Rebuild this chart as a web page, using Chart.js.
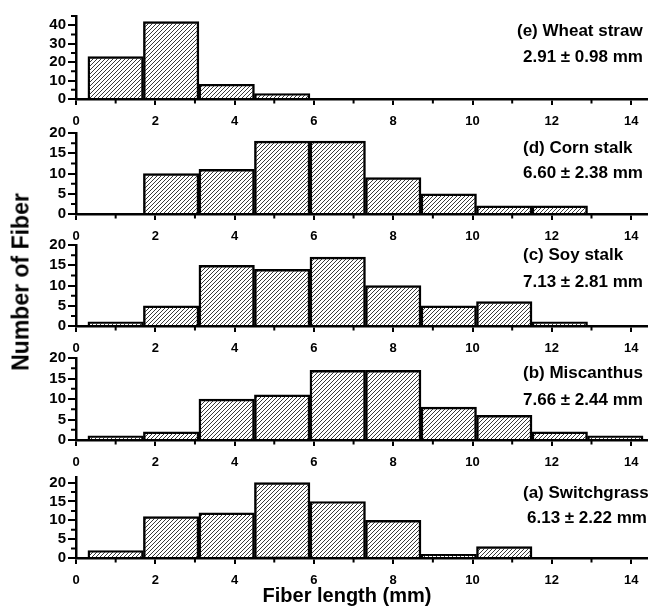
<!DOCTYPE html>
<html>
<head>
<meta charset="utf-8">
<script src="https://cdn.jsdelivr.net/npm/chart.js@4/dist/chart.umd.min.js"></script>
<style>
  body { margin: 0; background: #fff; }
  #wrap { position: relative; width: 649px; height: 608px; overflow: hidden; font-family: "Liberation Sans", Arial, sans-serif; }
  #wrap canvas { position: absolute; left: 0; }
  .note { position: absolute; left: 523px; font-weight: bold; font-size: 17px; line-height: 20px; white-space: nowrap; color: #000; }
  .ytitle { position: absolute; left: 21px; top: 282px; transform: translate(-50%, -50%) rotate(-90deg); font-weight: bold; font-size: 23px; white-space: nowrap; }
  .xtitle { position: absolute; left: 347px; top: 595px; transform: translate(-50%, -50%); font-weight: bold; font-size: 20px; white-space: nowrap; }
</style>
</head>
<body>
<div id="wrap">
  <canvas id="panel-e" width="649" height="129" style="top:0px"></canvas>
  <canvas id="panel-d" width="649" height="127" style="top:117px"></canvas>
  <canvas id="panel-c" width="649" height="127" style="top:229px"></canvas>
  <canvas id="panel-b" width="649" height="128" style="top:342px"></canvas>
  <canvas id="panel-a" width="649" height="127" style="top:461px"></canvas>

  <div class="note" style="top:21px;left:517px">(e) Wheat straw</div>
  <div class="note" style="top:47px">2.91 &plusmn; 0.98 mm</div>
  <div class="note" style="top:138px">(d) Corn stalk</div>
  <div class="note" style="top:163px">6.60 &plusmn; 2.38 mm</div>
  <div class="note" style="top:245px">(c) Soy stalk</div>
  <div class="note" style="top:272px">7.13 &plusmn; 2.81 mm</div>
  <div class="note" style="top:363px">(b) Miscanthus</div>
  <div class="note" style="top:390px">7.66 &plusmn; 2.44 mm</div>
  <div class="note" style="top:483px">(a) Switchgrass</div>
  <div class="note" style="top:508px;left:527px">6.13 &plusmn; 2.22 mm</div>

  <div class="ytitle">Number of Fiber</div>
  <div class="xtitle">Fiber length (mm)</div>
</div>
<script>
// bin centres (mm), bins are 1.4 mm wide starting at 0.3
const binCenters = [1.0, 2.4, 3.8, 5.2, 6.6, 8.0, 9.4, 10.8, 12.2, 13.6];

// counts per bin
const wheatStraw  = [23, 42, 8, 3, 0, 0, 0, 0, 0, 0];
const cornStalk   = [0, 10, 11, 18, 18, 9, 5, 2, 2, 0];
const soyStalk    = [1, 5, 15, 14, 17, 10, 5, 6, 1, 0];
const miscanthus  = [1, 2, 10, 11, 17, 17, 8, 6, 2, 1];
const switchgrass = [2, 11, 12, 20, 15, 10, 1, 3, 0, 0];

// axis ticks
const xMajor = [0, 2, 4, 6, 8, 10, 12, 14];
const xMinor = [1, 3, 5, 7, 9, 11, 13];
const yMajor45 = [0, 10, 20, 30, 40];
const yMinor45 = [5, 15, 25, 35, 45];
const yMajor20 = [0, 5, 10, 15, 20];
const yMinor20 = [2.5, 7.5, 12.5, 17.5];

Chart.defaults.font.family = '"Liberation Sans", Arial, sans-serif';
Chart.defaults.font.weight = 'bold';
Chart.defaults.color = '#000';

function hatch() {
  const c = document.createElement('canvas');
  c.width = 4; c.height = 4;
  const g = c.getContext('2d');
  g.strokeStyle = '#222';
  g.lineWidth = 0.9;
  g.beginPath();
  g.moveTo(0, 4); g.lineTo(4, 0);
  g.moveTo(-1, 1); g.lineTo(1, -1);
  g.moveTo(3, 5); g.lineTo(5, 3);
  g.stroke();
  return g.createPattern(c, 'repeat');
}

// short ticks between the labelled ones
const minorTicks = {
  id: 'minorTicks',
  afterDraw(chart, args, opts) {
    const { ctx, chartArea, scales } = chart;
    ctx.save();
    ctx.strokeStyle = '#000';
    ctx.lineWidth = 2;
    ctx.beginPath();
    (opts.x || []).forEach(v => {
      const px = scales.x.getPixelForValue(v);
      ctx.moveTo(px, chartArea.bottom);
      ctx.lineTo(px, chartArea.bottom + 4.5);
    });
    (opts.y || []).forEach(v => {
      const py = scales.y.getPixelForValue(v);
      ctx.moveTo(chartArea.left, py);
      ctx.lineTo(chartArea.left - 5, py);
    });
    ctx.stroke();
    ctx.restore();
  }
};

function makePanel(id, counts, yMax, yMajor, yMinor) {
  const ctx = document.getElementById(id).getContext('2d');
  return new Chart(ctx, {
    type: 'bar',
    data: {
      datasets: [{
        data: binCenters.map((x, i) => ({ x: x, y: counts[i] })),
        backgroundColor: hatch(),
        borderColor: '#000',
        borderWidth: 1.8,
        barPercentage: 1,
        categoryPercentage: 1
      }]
    },
    options: {
      responsive: false,
      devicePixelRatio: 1,
      animation: false,
      layout: { padding: { top: 16, right: 2, left: 0, bottom: 0 } },
      plugins: {
        legend: { display: false },
        tooltip: { enabled: false },
        minorTicks: { x: xMinor, y: yMinor }
      },
      scales: {
        x: {
          type: 'linear',
          min: 0,
          max: 14.4,
          offset: false,
          border: { color: '#000', width: 2.5 },
          grid: { offset: false, drawOnChartArea: false, tickLength: 6, tickWidth: 2, tickColor: '#000', color: '#000', lineWidth: 2 },
          ticks: { stepSize: 2, padding: 9, autoSkip: false, font: { size: 13, weight: 'bold' }, maxRotation: 0 },
          afterBuildTicks: s => { s.ticks = xMajor.map(v => ({ value: v })); },
          afterFit: s => { s.height = 30; }
        },
        y: {
          min: 0,
          max: yMax,
          border: { color: '#000', width: 2.5 },
          grid: { drawOnChartArea: false, tickLength: 8, tickWidth: 2, tickColor: '#000', color: '#000', lineWidth: 2 },
          ticks: { padding: 2, autoSkip: false, font: { size: 15, weight: 'bold' } },
          afterBuildTicks: s => { s.ticks = yMajor.map(v => ({ value: v })); },
          afterFit: s => { s.width = 76; }
        }
      }
    },
    plugins: [minorTicks]
  });
}

makePanel('panel-e', wheatStraw, 45, yMajor45, yMinor45);
makePanel('panel-d', cornStalk, 20, yMajor20, yMinor20);
makePanel('panel-c', soyStalk, 20, yMajor20, yMinor20);
makePanel('panel-b', miscanthus, 20, yMajor20, yMinor20);
makePanel('panel-a', switchgrass, 21.5, yMajor20, yMinor20);
</script>
</body>
</html>
